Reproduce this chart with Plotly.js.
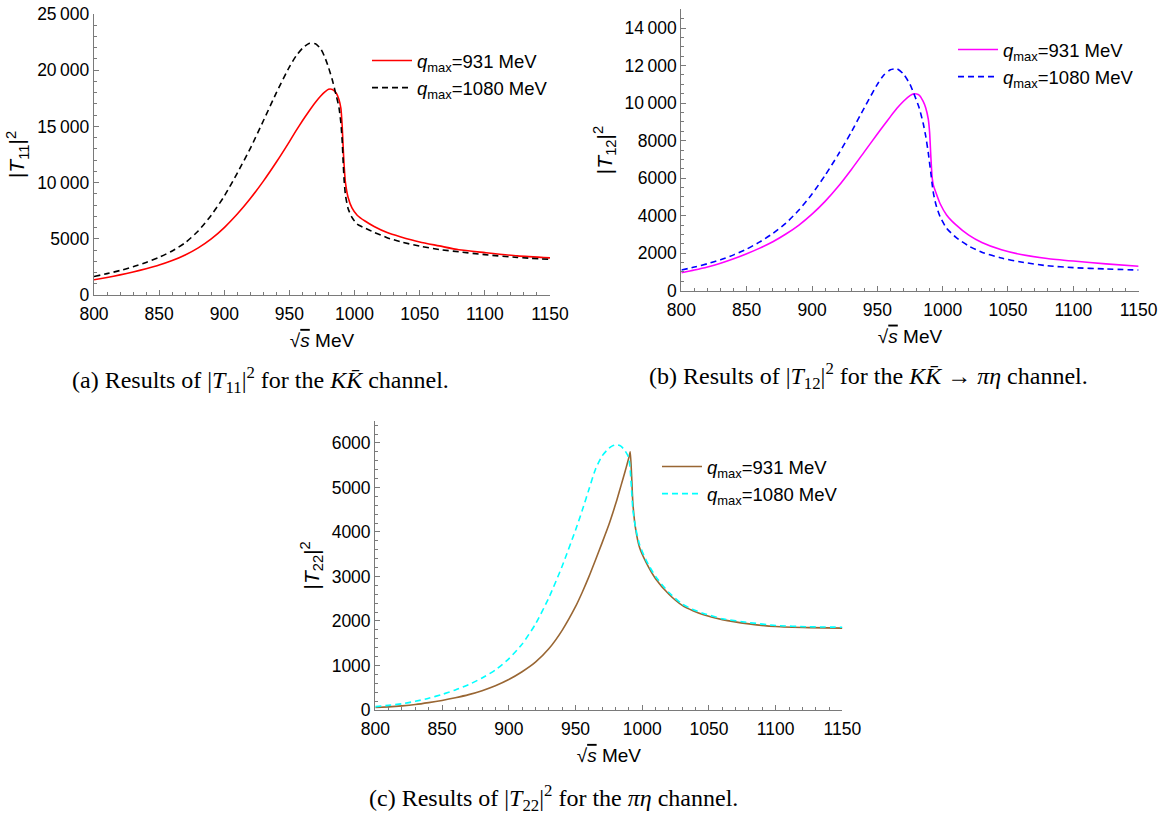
<!DOCTYPE html>
<html>
<head>
<meta charset="utf-8">
<script src="https://cdn.plot.ly/plotly-3.0.1.min.js"></script>
<style>
  html, body { margin: 0; padding: 0; background: #ffffff; }
  #chart { width: 1164px; height: 817px; }
</style>
</head>
<body>
<div id="chart"></div>
<script>
// Energy grids (sqrt(s), MeV) for each panel
const xA = [800, 810, 820, 830, 840, 850, 860, 870, 880, 890, 900, 910, 920, 930, 940, 950, 955, 960, 965, 970, 974, 977, 980, 983, 986, 988, 989.5, 990.5, 991.3, 992, 993, 995, 998, 1002, 1008, 1015, 1025, 1035, 1050, 1065, 1080, 1100, 1125, 1150];
const xB = [800, 810, 820, 830, 840, 850, 860, 870, 880, 890, 900, 910, 920, 930, 940, 950, 955, 960, 965, 970, 975, 978, 982, 985, 987, 989, 990, 991, 992, 993, 995, 998, 1003, 1010, 1020, 1030, 1045, 1060, 1080, 1100, 1125, 1150];
const xC = [800, 810, 820, 830, 840, 850, 860, 870, 880, 890, 900, 910, 920, 930, 940, 950, 955, 960, 965, 970, 975, 978, 981, 984, 987, 989, 990, 991, 992, 993, 995, 998, 1003, 1010, 1020, 1030, 1038, 1046, 1060, 1080, 1100, 1125, 1150];

// |T11|^2, K Kbar channel
const t11_q931  = [1350, 1560, 1790, 2050, 2340, 2660, 3060, 3560, 4190, 4990, 6000, 7200, 8580, 10130, 11830, 13650, 14600, 15500, 16350, 17150, 17700, 18050, 18300, 18280, 17950, 17400, 16600, 15000, 13000, 11500, 10000, 8700, 7750, 7100, 6580, 6100, 5560, 5190, 4720, 4370, 4020, 3770, 3480, 3300];
const t11_q1080 = [1650, 1900, 2180, 2510, 2900, 3350, 3920, 4650, 5700, 7100, 8800, 10850, 13050, 15500, 18000, 20300, 21250, 21950, 22380, 22350, 21900, 21200, 20250, 19100, 17700, 16700, 15300, 13700, 11700, 10200, 8900, 7700, 6900, 6300, 5950, 5580, 5100, 4740, 4350, 4050, 3840, 3590, 3340, 3170];

// |T12|^2, K Kbar -> pi eta channel
const t12_q931  = [960, 1100, 1260, 1460, 1700, 1970, 2270, 2610, 3020, 3500, 4080, 4760, 5550, 6450, 7400, 8350, 8820, 9280, 9720, 10100, 10400, 10500, 10430, 10100, 9750, 9150, 8450, 7100, 6000, 5600, 5200, 4650, 4040, 3520, 2960, 2570, 2180, 1930, 1720, 1580, 1430, 1300];
const t12_q1080 = [1100, 1260, 1440, 1650, 1910, 2220, 2600, 3050, 3600, 4300, 5150, 6150, 7250, 8450, 9750, 11000, 11500, 11780, 11830, 11550, 11000, 10500, 9750, 8950, 8250, 7350, 6800, 6250, 5650, 5170, 4550, 3950, 3330, 2850, 2380, 2050, 1740, 1530, 1330, 1230, 1160, 1100];

// |T22|^2, pi eta channel
const t22_q931  = [55, 70, 92, 122, 165, 215, 275, 345, 435, 545, 685, 860, 1075, 1375, 1790, 2320, 2640, 2990, 3370, 3760, 4160, 4430, 4720, 5030, 5340, 5560, 5670, 5800, 5300, 4650, 4080, 3650, 3310, 2950, 2600, 2350, 2230, 2140, 2030, 1935, 1875, 1850, 1840];
const t22_q1080 = [75, 105, 140, 195, 265, 350, 450, 570, 720, 900, 1150, 1480, 1930, 2520, 3230, 4040, 4480, 4950, 5410, 5710, 5880, 5940, 5960, 5930, 5830, 5730, 5650, 5400, 4950, 4500, 4100, 3720, 3360, 3000, 2640, 2380, 2260, 2170, 2050, 1965, 1900, 1870, 1860];

const legendLabels = ['<i>q</i><sub>max</sub>=931 MeV', '<i>q</i><sub>max</sub>=1080 MeV'];
const yTitles = ['|<i>T</i><sub>11</sub>|<sup>2</sup>', '|<i>T</i><sub>12</sub>|<sup>2</sup>', '|<i>T</i><sub>22</sub>|<sup>2</sup>'];
const xTitle = '√<span style="text-decoration:overline"><i>s</i></span> MeV';
const captions = [
  '(a) Results of |<i>T</i><sub>11</sub>|<sup>2</sup> for the <i>KK̄</i> channel.',
  '(b) Results of |<i>T</i><sub>12</sub>|<sup>2</sup> for the <i>KK̄</i> → <i>πη</i> channel.',
  '(c) Results of |<i>T</i><sub>22</sub>|<sup>2</sup> for the <i>πη</i> channel.'
];

const W = 1164, H = 817;
const px = v => v / W;
const py = v => 1 - v / H;

const DASH = '6px,4px';
function line(x, y, name, color, dash, xa, ya, leg, grp) {
  return {
    type: 'scatter', mode: 'lines', x: x, y: y, name: name,
    xaxis: xa, yaxis: ya, legend: leg, legendgroup: grp,
    line: { color: color, width: 1.6, dash: dash ? DASH : 'solid', shape: 'spline', smoothing: 0.6 },
    hoverinfo: 'x+y'
  };
}

const traces = [
  line(xA, t11_q931,  legendLabels[0], '#ff0000', false, 'x',  'y',  'legend',  'a1'),
  line(xA, t11_q1080, legendLabels[1], '#000000', true,  'x',  'y',  'legend',  'a2'),
  line(xB, t12_q931,  legendLabels[0], '#ff00ff', false, 'x2', 'y2', 'legend2', 'b1'),
  line(xB, t12_q1080, legendLabels[1], '#0000ff', true,  'x2', 'y2', 'legend2', 'b2'),
  line(xC, t22_q931,  legendLabels[0], '#996633', false, 'x3', 'y3', 'legend3', 'c1'),
  line(xC, t22_q1080, legendLabels[1], '#00ffff', true,  'x3', 'y3', 'legend3', 'c2')
];

const SANS = 'Liberation Sans, Arial, sans-serif';
const TICK_FONT = { family: SANS, size: 17.5, color: '#000' };
const AXIS_COLOR = '#7a7a7a';

function xAxis(domain, anchor) {
  return {
    domain: domain, anchor: anchor, range: [800, 1150], dtick: 50, tick0: 800,
    showline: true, linecolor: AXIS_COLOR, linewidth: 1.2, mirror: false,
    ticks: 'inside', ticklen: 5, tickwidth: 1, tickcolor: AXIS_COLOR,
    minor: { ticks: 'inside', ticklen: 3, dtick: 10, tick0: 800, tickcolor: AXIS_COLOR, showgrid: false },
    showgrid: false, zeroline: false, tickfont: TICK_FONT, automargin: false,
    exponentformat: 'none', ticklabelstandoff: 3,
    title: { text: xTitle, font: { family: SANS, size: 19, color: '#000' }, standoff: 10 }
  };
}
function yAxis(domain, anchor, top, major, minorStep, title) {
  return {
    domain: domain, anchor: anchor, range: [0, top], dtick: major, tick0: 0,
    showline: true, linecolor: AXIS_COLOR, linewidth: 1.2, mirror: false,
    ticks: 'inside', ticklen: 5, tickwidth: 1, tickcolor: AXIS_COLOR,
    minor: { ticks: 'inside', ticklen: 3, dtick: minorStep, tick0: 0, tickcolor: AXIS_COLOR, showgrid: false },
    showgrid: false, zeroline: false, tickfont: TICK_FONT, automargin: false,
    exponentformat: 'none',
    title: { text: title, font: { family: SANS, size: 21, color: '#000' }, standoff: 6 }
  };
}

const LEG_FONT = { family: SANS, size: 18.5, color: '#000' };
function legend(x, y) {
  return { x: x, y: y, xanchor: 'left', yanchor: 'top', bgcolor: 'rgba(0,0,0,0)',
           borderwidth: 0, font: LEG_FONT, tracegroupgap: 0, itemwidth: 40 };
}

function caption(text, cx, cy) {
  return { text: text, xref: 'paper', yref: 'paper', x: px(cx), y: py(cy),
           xanchor: 'center', yanchor: 'middle', showarrow: false,
           font: { family: 'Liberation Serif, DejaVu Serif, serif', size: 24, color: '#000' } };
}

const layout = {
  width: W, height: H,
  margin: { l: 0, r: 0, t: 0, b: 0 },
  paper_bgcolor: '#ffffff', plot_bgcolor: '#ffffff',
  separators: '.\u2009',
  showlegend: true,
  xaxis:  xAxis([px(94), px(550)], 'y'),
  yaxis:  yAxis([py(295), py(14)], 'x', 25000, 5000, 1000, yTitles[0]),
  xaxis2: xAxis([px(681.4), px(1138.6)], 'y2'),
  yaxis2: yAxis([py(290.7), py(9.3)], 'x2', 15000, 2000, 500, yTitles[1]),
  xaxis3: xAxis([px(375.3), px(842.4)], 'y3'),
  yaxis3: yAxis([py(710), py(420.7)], 'x3', 6500, 1000, 200, yTitles[2]),
  legend:  legend(px(367), py(42)),
  legend2: legend(px(953), py(31)),
  legend3: legend(px(657), py(448)),
  annotations: [
    caption(captions[0], 260, 380),
    caption(captions[1], 868, 376),
    caption(captions[2], 553, 798)
  ]
};

Plotly.newPlot('chart', traces, layout, { displayModeBar: false, staticPlot: true });
</script>
</body>
</html>
